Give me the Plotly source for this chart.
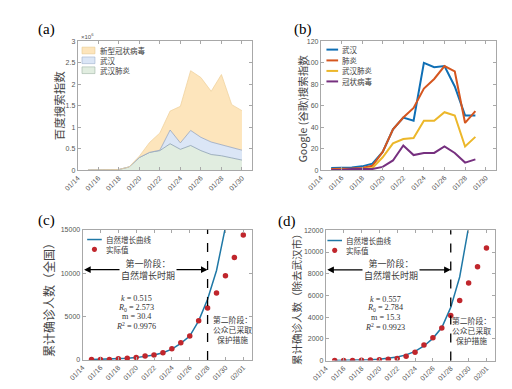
import plotly.graph_objects as go

# ---------------- data ----------------
dates_a = ["2020-01-15", "2020-01-16", "2020-01-17", "2020-01-18", "2020-01-19", "2020-01-20",
           "2020-01-21", "2020-01-22", "2020-01-23", "2020-01-24", "2020-01-25", "2020-01-26",
           "2020-01-27", "2020-01-28", "2020-01-29", "2020-01-30"]
baidu_wuhan_pneumonia = [10000, 10000, 15000, 20000, 80000, 300000, 420000, 460000, 620000, 490000,
                         580000, 460000, 370000, 340000, 290000, 240000]
baidu_wuhan = [0, 0, 0, 0, 0, 0, 0, 10000, 320000, 150000, 350000, 310000, 290000, 260000, 240000, 230000]
baidu_ncov = [0, 0, 0, 0, 0, 30000, 230000, 400000, 440000, 850000, 1390000, 1390000, 1180000,
              1630000, 1000000, 920000]

dates_b = ["2020-01-15", "2020-01-16", "2020-01-17", "2020-01-18", "2020-01-19", "2020-01-20",
           "2020-01-21", "2020-01-22", "2020-01-23", "2020-01-24", "2020-01-25", "2020-01-26",
           "2020-01-27", "2020-01-28", "2020-01-29"]
google_wuhan = [2, 2, 2.5, 3.5, 6, 17, 38, 49, 46, 100, 96, 97, 78, 51, 51]
google_pneumonia = [1, 1, 1.5, 2, 4, 17, 38, 49, 58, 76, 85, 97, 92, 44, 55]
google_wuhan_pneumonia = [0, 0, 0.5, 1, 2, 12, 25, 29, 30, 46, 46, 54, 51, 22, 31]
google_coronavirus = [0, 0, 1, 1, 1, 3, 9, 23, 14, 16, 16, 22, 16, 7, 10]

dates_actual = ["2020-01-15", "2020-01-16", "2020-01-17", "2020-01-18", "2020-01-19", "2020-01-20",
                "2020-01-21", "2020-01-22", "2020-01-23", "2020-01-24", "2020-01-25", "2020-01-26",
                "2020-01-27", "2020-01-28", "2020-01-29", "2020-01-30", "2020-01-31", "2020-02-01"]
dates_fit = ["2020-01-15", "2020-01-16", "2020-01-17", "2020-01-18", "2020-01-19", "2020-01-20",
             "2020-01-21", "2020-01-22", "2020-01-23", "2020-01-24", "2020-01-25", "2020-01-26",
             "2020-01-27", "2020-01-28", "2020-01-29", "2020-01-30"]
china_actual = [41, 45, 62, 121, 198, 291, 440, 571, 830, 1287, 1975, 2744, 4515, 5974, 7711, 9692,
                11791, 14380]
china_fit = [44, 62, 88, 125, 180, 265, 385, 560, 830, 1250, 1900, 2750, 4500, 7000, 10300, 15300]
exwuhan_actual = [0, 0, 5, 30, 50, 70, 120, 200, 400, 760, 1440, 2100, 3000, 4150, 5530, 7150, 8640,
                  10370]
exwuhan_fit = [20, 28, 40, 60, 90, 135, 210, 330, 530, 850, 1350, 2050, 3050, 4900, 7700, 12300]

tick_dates_ab = ["2020-01-14", "2020-01-16", "2020-01-18", "2020-01-20", "2020-01-22", "2020-01-24",
                 "2020-01-26", "2020-01-28", "2020-01-30"]
tick_text_ab = ["01/14", "01/16", "01/18", "01/20", "01/22", "01/24", "01/26", "01/28", "01/30"]
tick_dates_cd = tick_dates_ab + ["2020-02-01"]
tick_text_cd = tick_text_ab + ["02/01"]

ytick_a = [0, 500000, 1000000, 1500000, 2000000, 2500000, 3000000]
ytick_a_text = ["0", "0.5", "1", "1.5", "2", "2.5", "3"]

# ---------------- helpers ----------------
W, H = 512, 389


def px(x):
    return x / W


def py(y):
    return 1 - y / H


FRAME = "#a8a8a8"
TICKFONT = dict(family="Liberation Sans", size=7, color="#555555")
CJK = "Noto Sans CJK SC"
TXT = "#3a3a3a"


def xax(domain, anchor, rng, tv, tt):
    return dict(domain=domain, anchor=anchor, type="date", range=rng, tickvals=tv, ticktext=tt,
                tickangle=-45, showline=True, linecolor=FRAME, linewidth=1, mirror="ticks",
                ticks="inside", ticklen=3, tickcolor=FRAME, tickfont=TICKFONT,
                showgrid=False, zeroline=False)


def yax(domain, anchor, rng, dtick=None, tv=None, tt=None):
    d = dict(domain=domain, anchor=anchor, range=rng, showline=True, linecolor=FRAME, linewidth=1,
             mirror="ticks", ticks="inside", ticklen=3, tickcolor=FRAME, tickfont=TICKFONT,
             showgrid=False, zeroline=False, tickformat="d")
    if tv is not None:
        d.update(tickvals=tv, ticktext=tt)
    else:
        d.update(dtick=dtick, tick0=0)
    return d


fig = go.Figure()

# ---------------- (a) stacked areas ----------------
fig.add_trace(go.Scatter(x=dates_a, y=baidu_wuhan_pneumonia, stackgroup="a", mode="lines",
                         fillcolor="#e1ede0", line=dict(color="#8b9fb0", width=0.8),
                         name="武汉肺炎", xaxis="x", yaxis="y", showlegend=False))
fig.add_trace(go.Scatter(x=dates_a, y=baidu_wuhan, stackgroup="a", mode="lines",
                         fillcolor="#dbe6f6", line=dict(color="#95a6c2", width=0.8),
                         name="武汉", xaxis="x", yaxis="y", showlegend=False))
fig.add_trace(go.Scatter(x=dates_a, y=baidu_ncov, stackgroup="a", mode="lines",
                         fillcolor="#fde5bc", line=dict(color="#f0d3a0", width=0.8),
                         name="新型冠状病毒", xaxis="x", yaxis="y", showlegend=False))

# ---------------- (b) lines ----------------
b_series = [("武汉", google_wuhan, "#0f6fb5"), ("肺炎", google_pneumonia, "#d5561f"),
            ("武汉肺炎", google_wuhan_pneumonia, "#ecb72a"), ("冠状病毒", google_coronavirus, "#76307f")]
for name, vals, col in b_series:
    fig.add_trace(go.Scatter(x=dates_b, y=vals, mode="lines", line=dict(color=col, width=2),
                             name=name, xaxis="x2", yaxis="y2", showlegend=False))

# ---------------- (c) & (d) ----------------
CURVE = "#1f78a6"
DOT = "#c0262c"
fig.add_trace(go.Scatter(x=dates_fit, y=china_fit, mode="lines", line=dict(color=CURVE, width=1.5),
                         name="自然增长曲线", xaxis="x3", yaxis="y3", showlegend=False))
fig.add_trace(go.Scatter(x=dates_actual, y=china_actual, mode="markers",
                         marker=dict(color=DOT, size=5.5), name="实际值",
                         xaxis="x3", yaxis="y3", showlegend=False, cliponaxis=True))
fig.add_trace(go.Scatter(x=dates_fit, y=exwuhan_fit, mode="lines", line=dict(color=CURVE, width=1.5),
                         name="自然增长曲线", xaxis="x4", yaxis="y4", showlegend=False))
fig.add_trace(go.Scatter(x=dates_actual, y=exwuhan_actual, mode="markers",
                         marker=dict(color=DOT, size=5.5), name="实际值",
                         xaxis="x4", yaxis="y4", showlegend=False, cliponaxis=True))

# ---------------- layout / axes ----------------
fig.update_layout(
    width=W, height=H, margin=dict(l=0, r=0, t=0, b=0),
    paper_bgcolor="white", plot_bgcolor="white", showlegend=False,
    xaxis=xax([px(57.3), px(236.7)], "y", ["2020-01-14", "2020-01-31"], tick_dates_ab, tick_text_ab),
    yaxis=yax([py(161.3), py(30)], "x", [0, 3000000], tv=ytick_a, tt=ytick_a_text),
    xaxis2=xax([px(307.3), px(487.3)], "y2", ["2020-01-14", "2020-01-31"], tick_dates_ab, tick_text_ab),
    yaxis2=yax([py(161), py(30)], "x2", [0, 120], dtick=20),
    xaxis3=xax([px(62.3), px(236.7)], "y3", ["2020-01-14", "2020-02-02"], tick_dates_cd, tick_text_cd),
    yaxis3=yax([py(354.3), py(221.7)], "x3", [0, 15000], dtick=5000),
    xaxis4=xax([px(312.3), px(486.7)], "y4", ["2020-01-14", "2020-02-02"], tick_dates_cd, tick_text_cd),
    yaxis4=yax([py(355), py(222.3)], "x4", [0, 12000], dtick=2000),
)

shapes = []
ann = []


def text(x, y, s, size, family=CJK, color=TXT, xanchor="center", angle=0, **kw):
    ann.append(dict(x=px(x), y=py(y), xref="paper", yref="paper", text=s, showarrow=False,
                    xanchor=xanchor, yanchor="middle", textangle=angle,
                    font=dict(family=family, size=size, color=color), **kw))


# panel labels
for lab, x, y in [("(a)", 25, 18), ("(b)", 289, 18), ("(c)", 25, 212), ("(d)", 272, 213)]:
    text(x, y, lab, 15, family="Liberation Serif", color="black")

# y-axis titles
text(38, 95, "百度搜索指数", 11.5, angle=-90, color="#444444")
text(288, 98, "Google (谷歌)搜索指数", 10.5, angle=-90, color="#444444")
text(28, 290, "累计确诊人数（全国）", 12, angle=-90, color="#444444")
text(283, 290, "累计确诊人数（除去武汉市）", 10.5, angle=-90, color="#444444")

# exponent label
text(59, 24, "×10<sup>6</sup>", 6, family="Liberation Sans", color="#555555", xanchor="left")

# legend (a)
legend_a = [("新型冠状病毒", "#fde5bc", "#e8c98f", 39.2), ("武汉", "#dbe6f6", "#9fb0cc", 49.2),
            ("武汉肺炎", "#e1ede0", "#9fb3a6", 59.3)]
for name, fc, lc, yc in legend_a:
    shapes.append(dict(type="rect", xref="paper", yref="paper", x0=px(61.7), x1=px(75),
                       y0=py(yc + 3.4), y1=py(yc - 3.4), fillcolor=fc, line=dict(color=lc, width=0.6)))
    text(78, yc, name, 7.5, xanchor="left")

# legend (b)
for (name, _, col), yc in zip(b_series, [38.3, 49.3, 60, 70.7]):
    shapes.append(dict(type="line", xref="paper", yref="paper", x0=px(313), x1=px(325),
                       y0=py(yc), y1=py(yc), line=dict(color=col, width=2)))
    text(327, yc, name, 7.5, xanchor="left")

# legends (c), (d)
for x0, yl in [(67, 231.7), (314, 232.7)]:
    shapes.append(dict(type="line", xref="paper", yref="paper", x0=px(x0), x1=px(x0 + 15),
                       y0=py(yl), y1=py(yl), line=dict(color=CURVE, width=1.5)))
    cx, cy = x0 + 7.5, yl + 10
    shapes.append(dict(type="circle", xref="paper", yref="paper", x0=px(cx - 2.6), x1=px(cx + 2.6),
                       y0=py(cy + 2.6), y1=py(cy - 2.6), fillcolor=DOT, line=dict(color=DOT, width=0)))
    text(x0 + 17, yl, "自然增长曲线", 7.5, xanchor="left")
    text(x0 + 17, yl + 10, "实际值", 7.5, xanchor="left")

# dashed stage lines + arrows
panels = [
    dict(xa="x3", ya="y3", arrow_y=10400, tx=130, ty=262.3,
         params=["<i>k</i> = 0.515", "<i>R</i><sub>0</sub> = 2.573", "m = 30.4", "<i>R</i><sup>2</sup> = 0.9976"],
         px_=117.5, pys=[291.7, 301.2, 310.4, 319.8], sx=216.5, sy=323.5),
    dict(xa="x4", ya="y4", arrow_y=8360, tx=379.3, ty=262.7,
         params=["<i>k</i> = 0.557", "<i>R</i><sub>0</sub> = 2.784", "m = 15.3", "<i>R</i><sup>2</sup> = 0.9923"],
         px_=373.3, pys=[292.3, 301.7, 311.2, 320.8], sx=461.7, sy=324.3),
]
for p in panels:
    shapes.append(dict(type="line", xref=p["xa"], yref=p["ya"] + " domain", x0="2020-01-28",
                       x1="2020-01-28", y0=0, y1=1, line=dict(color="black", width=1.3, dash="dash")))
    ann.append(dict(x="2020-01-28", y=p["arrow_y"], ax="2020-01-14", ay=p["arrow_y"],
                    xref=p["xa"], yref=p["ya"], axref=p["xa"], ayref=p["ya"], text="",
                    showarrow=True, arrowhead=2, startarrowhead=2, arrowside="end+start",
                    arrowsize=1.1, arrowwidth=1.2, arrowcolor="black", standoff=0, startstandoff=0))
    text(p["tx"], p["ty"], "第一阶段：<br>自然增长时期", 9, bgcolor="white", borderpad=1)
    for s, yy in zip(p["params"], p["pys"]):
        text(p["px_"], yy, s, 8.2, family="Liberation Serif", color="#333333")
    text(p["sx"], p["sy"], "第二阶段：<br>公众已采取<br>保护措施", 7.8)

fig.update_layout(shapes=shapes, annotations=ann)
fig.write_html("out.html")
